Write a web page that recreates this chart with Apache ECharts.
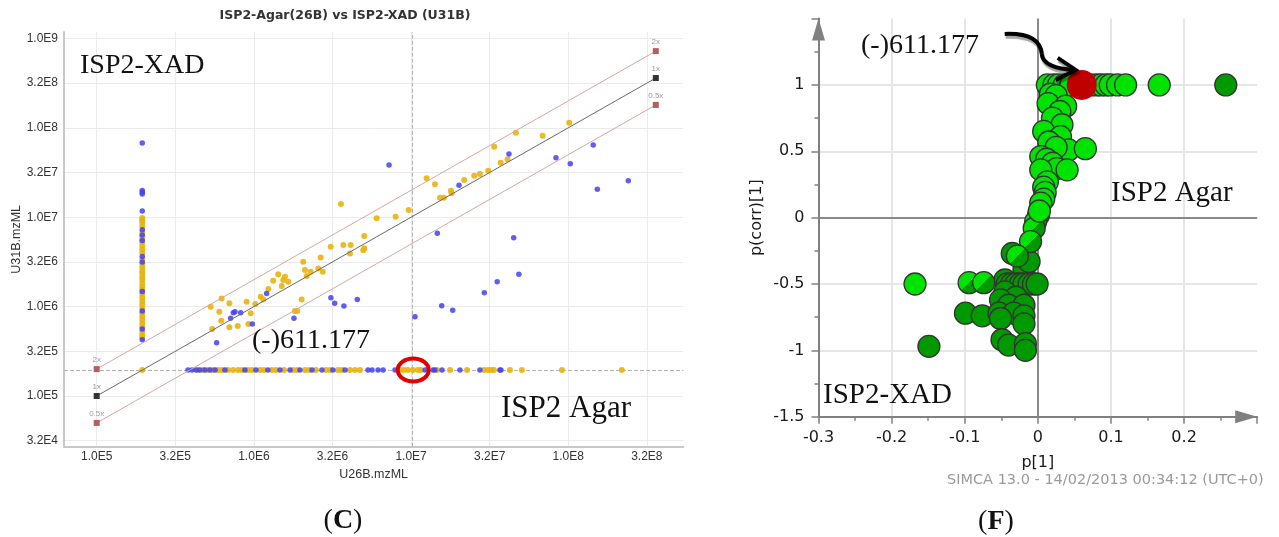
<!DOCTYPE html>
<html><head><meta charset="utf-8">
<script src="https://cdn.jsdelivr.net/npm/echarts@6/dist/echarts.min.js"></script>
<style>html,body{margin:0;padding:0;background:#fff}#c{width:1279px;height:537px}</style>
</head><body><div id="c"></div>
<script>
// ---------- Panel (C): intensities, stored as log10 values ----------
const missingLog10 = 5.29; // intensity assigned to features absent from one sample
const columnBlueYLog10 = [7.83, 7.30, 7.28, 7.26, 7.07, 6.86, 6.80, 6.74, 6.56, 6.50, 6.17, 5.95, 5.75, 5.63];
const columnYellowYLog10 = [6.99, 6.97, 6.94, 6.90, 6.83, 6.79, 6.76, 6.72, 6.68, 6.64, 6.60, 6.53, 6.48, 6.44, 6.40, 6.37, 6.33, 6.30, 6.26, 6.22, 6.19, 6.14, 6.10, 6.06, 6.02, 5.98, 5.93, 5.89, 5.85, 5.81, 5.77, 5.72, 5.68, 5.65, 5.29];
const rowBlueXLog10 = [5.581, 5.606, 5.632, 5.657, 5.689, 5.721, 5.753, 5.816, 5.943, 6.013, 6.089, 6.166, 6.230, 6.293, 6.370, 6.433, 6.503, 6.580, 6.726, 6.752, 6.790, 6.822, 6.898, 7.089, 7.140, 7.152, 7.197, 7.311, 7.438, 7.565, 7.572];
const rowYellowXLog10 = [5.644, 5.676, 5.708, 5.740, 5.772, 5.797, 5.835, 5.867, 5.899, 5.924, 5.962, 5.988, 6.039, 6.064, 6.115, 6.141, 6.192, 6.249, 6.274, 6.325, 6.351, 6.395, 6.459, 6.484, 6.535, 6.560, 6.611, 6.643, 6.675, 6.929, 6.955, 6.980, 7.012, 7.044, 7.063, 7.165, 7.248, 7.356, 7.464, 7.489, 7.508, 7.527, 7.629, 7.705, 7.960, 8.341];
const blueLog10 = [[5.763,5.596],[5.852,5.869],[5.869,5.932],[5.880,5.943],[5.916,5.932],[5.990,5.805],[6.081,6.148],[6.255,5.869],[6.490,6.099],[6.514,6.037],[6.573,6.007],[6.658,6.080],[6.860,7.584],[7.167,6.820],[7.305,7.357],[7.623,7.707],[7.653,6.771],[7.922,7.666],[8.013,7.599],[8.159,7.808],[8.185,7.312],[8.382,7.408],[7.025,5.887],[7.195,6.009],[7.265,5.958],[7.466,6.154],[7.548,6.277],[7.686,6.363]];
const yellowLog10 = [[5.725,5.999],[5.795,6.092],[5.844,6.037],[5.780,5.943],[5.954,6.055],[5.980,5.925],[6.009,6.029],[5.735,5.749],[5.793,5.842],[5.844,5.768],[5.897,5.782],[5.965,5.805],[6.043,6.110],[6.060,6.080],[6.092,6.196],[6.123,6.289],[6.155,6.361],[6.177,6.230],[6.187,6.298],[6.198,6.334],[6.219,6.279],[6.261,5.951],[6.276,5.951],[6.304,6.080],[6.314,6.502],[6.325,6.409],[6.336,6.342],[6.361,6.389],[6.410,6.427],[6.425,6.550],[6.438,6.389],[6.611,6.594],[6.696,6.631],[6.554,7.148],[6.489,6.670],[6.569,6.689],[6.616,6.689],[6.702,6.790],[6.702,6.652],[6.781,6.988],[6.902,7.006],[6.985,7.080],[7.099,7.435],[7.152,7.368],[7.184,7.218],[7.209,7.218],[7.254,7.296],[7.258,7.267],[7.338,7.416],[7.402,7.464],[7.438,7.483],[7.491,7.520],[7.529,7.789],[7.570,7.610],[7.614,7.648],[7.667,7.945],[7.837,7.912],[8.006,8.057]];
const foldNames = ['2x', '1x', '0.5x'];
const foldRatios = [2, 1, 0.5];
const foldLineXLog10 = [5, 8.557];
const crosshairXLog10 = 7.01;
const highlightCLog10 = [7.014, 5.29];
const cXTicksLog10 = [5, 5.5, 6, 6.5, 7, 7.5, 8, 8.5];
const cYTicksLog10 = [4.5, 5, 5.5, 6, 6.5, 7, 7.5, 8, 8.5, 9];

// ---------- Panel (F): S-plot, p[1] vs p(corr)[1] ----------
const brightPoints = [[0.013,1],[0.022,1],[0.028,1],[0.036,1],[0.045,1],[0.072,1],[0.080,1],[0.086,1],[0.093,1],[0.099,1],[0.109,1],[0.120,1],[0.166,1],
  [0.017,0.93],[0.025,0.92],[0.014,0.86],[0.038,0.84],[0.030,0.80],[0.020,0.75],[0.033,0.70],[0.008,0.65],[0.031,0.61],[0.015,0.57],[0.042,0.51],[0.065,0.52],[0.025,0.53],
  [0.004,0.46],[0.012,0.44],[0.020,0.41],[0.026,0.37],[0.004,0.36],[0.040,0.36],[0.013,0.27],[0.008,0.23],[0.010,0.19],[0.008,0.14],[0.004,0.11],[0.002,0.05],[-0.168,-0.5]];
const splitPoints = [[0.001,0.02],[-0.003,-0.03],[-0.005,-0.08],[-0.010,-0.18],[-0.028,-0.29],[-0.094,-0.49],[-0.074,-0.49]];
const darkPoints = [[-0.035,-0.27],[-0.019,-0.39],[-0.012,-0.33],[-0.045,-0.47],[-0.042,-0.5],[-0.036,-0.5],[-0.030,-0.5],[-0.024,-0.5],[-0.019,-0.5],[-0.012,-0.5],[-0.006,-0.5],[-0.001,-0.5],
  [-0.045,-0.56],[-0.030,-0.60],[-0.051,-0.62],[-0.040,-0.66],[-0.019,-0.66],[-0.099,-0.72],[-0.076,-0.74],[-0.053,-0.72],[-0.033,-0.72],[-0.051,-0.76],[-0.019,-0.74],[-0.019,-0.80],
  [-0.149,-0.97],[-0.049,-0.92],[-0.040,-0.96],[-0.017,-0.95],[-0.017,-1.0],[0.257,1.0]];
const highlightPoint = [0.060, 1.0];

// ---------- chart ----------
const chart = echarts.init(document.getElementById('c'));
const fmtSci = v => { const e = Math.floor(v + 1e-9); const m = Math.pow(10, v - e); return m.toFixed(1) + 'E' + e; };
const fmtDec = v => String(Math.round(v * 100) / 100);
const LF = 'Liberation Sans';
const RF = 'DejaVu Sans';
const yellow = 'rgba(232,178,16,0.9)';
const blue = 'rgba(66,66,240,0.85)';
const bright = '#00e200';
const dark = '#009a00';
const splitFill = { type: 'linear', x: 0, y: 0, x2: 1, y2: 1, colorStops: [
  { offset: 0, color: bright }, { offset: 0.5, color: bright }, { offset: 0.5, color: dark }, { offset: 1, color: dark }] };

const series = [];
series.push({ type: 'line', xAxisIndex: 0, yAxisIndex: 0, data: [], silent: true,
  markLine: { z: 1, silent: true, symbol: ['none', 'none'], label: { show: false },
    lineStyle: { type: 'dashed', color: '#b4b4b4', width: 1 },
    data: [{ yAxis: missingLog10 }, { xAxis: crosshairXLog10 }] } });
foldNames.forEach((nm, i) => {
  const off = Math.log10(foldRatios[i]);
  const is1 = foldRatios[i] === 1;
  series.push({ type: 'line', xAxisIndex: 0, yAxisIndex: 0, silent: true,
    data: foldLineXLog10.map(x => [x, x + off]),
    symbol: 'rect', symbolSize: 6, showSymbol: true,
    lineStyle: { color: is1 ? '#6a6a6a' : '#d8a6a6', width: 1 },
    itemStyle: { color: is1 ? '#333' : '#b45e5e' },
    label: { show: true, position: 'top', distance: 2, formatter: nm, fontSize: 8, color: '#9a9a9a', fontFamily: LF } });
});
series.push({ type: 'scatter', xAxisIndex: 0, yAxisIndex: 0, symbolSize: 6, itemStyle: { color: yellow, opacity: 1 },
  data: columnYellowYLog10.map(y => [missingLog10, y]).concat(rowYellowXLog10.map(x => [x, missingLog10])).concat(yellowLog10) });
series.push({ type: 'scatter', xAxisIndex: 0, yAxisIndex: 0, symbolSize: 5.5, itemStyle: { color: blue, opacity: 1 },
  data: columnBlueYLog10.map(y => [missingLog10, y]).concat(rowBlueXLog10.map(x => [x, missingLog10])).concat(blueLog10) });

series.push({ type: 'line', xAxisIndex: 1, yAxisIndex: 1, data: [], silent: true,
  markLine: { z: 1, silent: true, symbol: ['none', 'none'], label: { show: false },
    lineStyle: { type: 'solid', color: '#8a8a8a', width: 2 },
    data: [{ xAxis: 0 }, { yAxis: 0 }] } });
const circleStyle = { borderColor: '#333', borderWidth: 1.3, opacity: 1 };
series.push({ type: 'scatter', xAxisIndex: 1, yAxisIndex: 1, symbolSize: 22, z: 3, data: darkPoints, itemStyle: Object.assign({ color: dark }, circleStyle) });
series.push({ type: 'scatter', xAxisIndex: 1, yAxisIndex: 1, symbolSize: 22, z: 3, data: splitPoints, itemStyle: Object.assign({ color: splitFill }, circleStyle) });
series.push({ type: 'scatter', xAxisIndex: 1, yAxisIndex: 1, symbolSize: 22, z: 3, data: brightPoints, itemStyle: Object.assign({ color: bright }, circleStyle) });
series.push({ type: 'scatter', xAxisIndex: 1, yAxisIndex: 1, symbolSize: 30, z: 4, data: [highlightPoint], itemStyle: { color: '#c00000', opacity: 1 } });

const arrowAxisLine = { show: true, onZero: false, lineStyle: { color: '#808080', width: 2 }, symbol: ['none', 'triangle'], symbolSize: [13, 22], symbolOffset: [0, -11] };
const option = {
  animation: false,
  backgroundColor: '#fff',
  grid: [
    { left: 64, right: 595.7, top: 32, bottom: 90.3 },
    { left: 818.5, right: 21.8, top: 18.6, bottom: 120.3 }
  ],
  xAxis: [
    { gridIndex: 0, type: 'value', min: 4.792, max: 8.732,
      name: 'U26B.mzML', nameLocation: 'middle', nameGap: 16,
      nameTextStyle: { fontFamily: LF, fontSize: 12.5, color: '#333' },
      axisLine: { show: true, onZero: false, lineStyle: { color: '#c8c8c8', width: 2 } },
      axisTick: { show: false, customValues: cXTicksLog10 },
      axisLabel: { customValues: cXTicksLog10, formatter: fmtSci, margin: 4, fontFamily: LF, fontSize: 12, color: '#333' },
      splitLine: { show: true, lineStyle: { color: '#ebebeb', width: 1 } } },
    { gridIndex: 1, type: 'value', min: -0.3, max: 0.3, interval: 0.1,
      name: 'p[1]', nameLocation: 'middle', nameGap: 38,
      nameTextStyle: { fontFamily: RF, fontSize: 16, color: '#1a1a1a' },
      axisLine: arrowAxisLine,
      axisTick: { show: true, length: 7, lineStyle: { color: '#808080', width: 1.5 } },
      minorTick: { show: true, splitNumber: 2, length: 4, lineStyle: { color: '#808080', width: 1.5 } },
      axisLabel: { showMaxLabel: false, formatter: fmtDec, margin: 13, fontFamily: RF, fontSize: 16, color: '#1a1a1a' },
      splitLine: { show: true, showMinLine: false, showMaxLine: false, lineStyle: { color: '#e6e6e6', width: 2 } } }
  ],
  yAxis: [
    { gridIndex: 0, type: 'value', min: 4.433, max: 9.072,
      name: 'U31B.mzML', nameLocation: 'middle', nameGap: 40, nameRotate: 90,
      nameTextStyle: { fontFamily: LF, fontSize: 12.5, color: '#333' },
      axisLine: { show: true, onZero: false, lineStyle: { color: '#c8c8c8', width: 2 } },
      axisTick: { show: false, customValues: cYTicksLog10 },
      axisLabel: { customValues: cYTicksLog10, formatter: fmtSci, margin: 6, fontFamily: LF, fontSize: 12, color: '#333' },
      splitLine: { show: true, lineStyle: { color: '#ebebeb', width: 1 } } },
    { gridIndex: 1, type: 'value', min: -1.5, max: 1.5, interval: 0.5,
      name: 'p(corr)[1]', nameLocation: 'middle', nameGap: 54, nameRotate: 90,
      nameTextStyle: { fontFamily: RF, fontSize: 16, color: '#1a1a1a' },
      axisLine: arrowAxisLine,
      axisTick: { show: true, length: 7, lineStyle: { color: '#808080', width: 1.5 } },
      minorTick: { show: true, splitNumber: 2, length: 4, lineStyle: { color: '#808080', width: 1.5 } },
      axisLabel: { showMaxLabel: false, formatter: fmtDec, margin: 14, fontFamily: RF, fontSize: 16, color: '#1a1a1a' },
      splitLine: { show: true, showMinLine: false, showMaxLine: false, lineStyle: { color: '#e6e6e6', width: 2 } } }
  ],
  series: series
};
chart.setOption(option);

// annotations
const serif = '"Liberation Serif", "Times New Roman", serif';
const ep = chart.convertToPixel({ gridIndex: 0 }, highlightCLog10);
const rp = chart.convertToPixel({ gridIndex: 1 }, highlightPoint);
const arrowStyle = { stroke: '#000', lineWidth: 4, fill: null, shadowBlur: 1, shadowOffsetX: 1, shadowOffsetY: 3, shadowColor: 'rgba(0,0,0,0.35)' };
const txt = (t, x, y, size, align) => ({ type: 'text', z: 20, style: { text: t, x: x, y: y, fill: '#111', font: size + 'px ' + serif, align: align || 'left', verticalAlign: 'middle' } });
chart.setOption({ graphic: [
  { type: 'text', z: 20, style: { text: 'ISP2-Agar(26B) vs ISP2-XAD (U31B)', x: 345, y: 16, fill: '#333', font: 'bold 12.5px "DejaVu Sans"', align: 'center', verticalAlign: 'middle' } },
  txt('ISP2-XAD', 80, 66, 28),
  txt('(-)611.177', 252, 341, 28),
  txt('ISP2 Agar', 501, 409, 31),
  txt('(-)611.177', 861, 46, 28),
  txt('ISP2 Agar', 1111, 193, 29),
  txt('ISP2-XAD', 823, 395, 29),
  { type: 'text', z: 20, style: { text: '{n|(}{b|C}{n|)}', x: 343, y: 521, align: 'center', verticalAlign: 'middle',
      rich: { n: { font: '28px ' + serif, fill: '#111' }, b: { font: 'bold 28px ' + serif, fill: '#111' } } } },
  { type: 'text', z: 20, style: { text: '{n|(}{b|F}{n|)}', x: 996, y: 522, align: 'center', verticalAlign: 'middle',
      rich: { n: { font: '28px ' + serif, fill: '#111' }, b: { font: 'bold 28px ' + serif, fill: '#111' } } } },
  { type: 'text', z: 20, style: { text: 'SIMCA 13.0 - 14/02/2013 00:34:12 (UTC+0)', x: 947, y: 480, fill: '#9a9a9a', font: '14.5px "DejaVu Sans"', align: 'left', verticalAlign: 'middle' } },
  { type: 'ellipse', z: 20, shape: { cx: ep[0], cy: ep[1], rx: 15.5, ry: 11.5 }, style: { fill: null, stroke: '#e00000', lineWidth: 4 } },
  { type: 'bezierCurve', z: 20, shape: { x1: rp[0] - 77, y1: rp[1] - 51, cpx1: rp[0] - 50, cpy1: rp[1] - 52, cpx2: rp[0] - 41, cpy2: rp[1] - 43, x2: rp[0] - 40, y2: rp[1] - 31 }, style: arrowStyle },
  { type: 'bezierCurve', z: 20, shape: { x1: rp[0] - 40, y1: rp[1] - 31, cpx1: rp[0] - 39, cpy1: rp[1] - 20, cpx2: rp[0] - 25, cpy2: rp[1] - 16, x2: rp[0] - 7, y2: rp[1] - 15 }, style: arrowStyle },
  { type: 'polyline', z: 20, shape: { points: [[rp[0] - 24, rp[1] - 27], [rp[0] - 6, rp[1] - 15], [rp[0] - 26, rp[1] - 5]] }, style: arrowStyle }
] });
</script></body></html>
